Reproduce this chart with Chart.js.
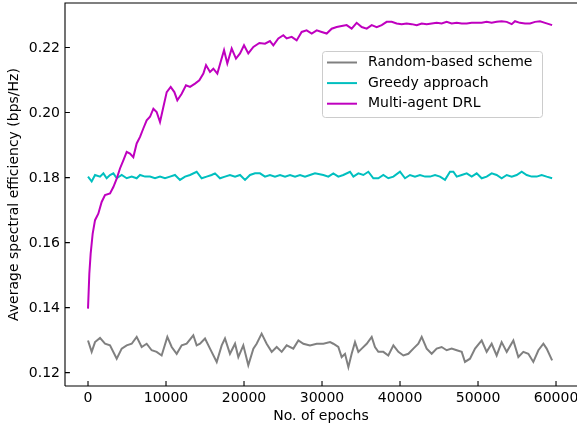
<!doctype html>
<html lang="en">
  <head>
    <meta charset="utf-8">
    <title>Average spectral efficiency</title>
    <script src="https://cdn.jsdelivr.net/npm/chart.js"></script>
    <style>
      html, body { margin: 0; padding: 0; background: #fff; overflow: hidden; }
      #wrap { width: 577px; height: 428px; }
    </style>
  </head>
  <body>
    <div id="wrap"><canvas id="chart" width="577" height="428"></canvas></div>

    <script>
      // series names + colours (matplotlib gray / c / m)
      const SeriesNames = ['Random-based scheme', 'Greedy approach', 'Multi-agent DRL']
      const SeriesColors = ['#808080', '#00bfbf', '#bf00bf']

      const XTicks = [0, 10000, 20000, 30000, 40000, 50000, 60000]
      const YTicks = [0.12, 0.14, 0.16, 0.18, 0.20, 0.22]

      // values
      const RandomEpochs = [0, 470, 900, 1540, 2180, 2820, 3680, 4320, 4960, 5600,
        6240, 6880, 7520, 8160, 8800, 9440, 10170, 10730, 11370, 12010,
        12650, 13500, 13930, 14360, 15000, 15640, 16500, 17140, 17560, 18200,
        18850, 19270, 19910, 20550, 21200, 21620, 22260, 22900, 23550, 24190,
        24830, 25470, 26320, 26970, 27610, 28460, 29320, 30170, 31030, 31450,
        32090, 32520, 32950, 33380, 33800, 34230, 34660, 35090, 35730, 36370,
        36790, 37220, 37860, 38500, 39150, 39790, 40430, 41070, 41710, 42350,
        42780, 43420, 44060, 44700, 45340, 45980, 46620, 47270, 47910, 48330,
        48970, 49620, 50470, 51110, 51750, 52390, 53030, 53680, 54530, 55170,
        55810, 56450, 57090, 57740, 58380, 58800, 59500]
      const RandomValues = [0.1299, 0.1264, 0.1294, 0.1307, 0.1289, 0.1284, 0.1243, 0.1274, 0.1284, 0.1289,
        0.1310, 0.1279, 0.1289, 0.1269, 0.1264, 0.1253, 0.1310, 0.1279, 0.1258, 0.1284,
        0.1289, 0.1315, 0.1284, 0.1289, 0.1305, 0.1274, 0.1233, 0.1284, 0.1305, 0.1258,
        0.1289, 0.1248, 0.1284, 0.1223, 0.1274, 0.1289, 0.1320, 0.1289, 0.1264, 0.1279,
        0.1264, 0.1284, 0.1274, 0.1299, 0.1289, 0.1284, 0.1289, 0.1289, 0.1294, 0.1289,
        0.1279, 0.1248, 0.1258, 0.1217, 0.1258, 0.1294, 0.1264, 0.1274, 0.1289, 0.1310,
        0.1279, 0.1264, 0.1264, 0.1253, 0.1284, 0.1264, 0.1253, 0.1258, 0.1274, 0.1289,
        0.1310, 0.1274, 0.1258, 0.1274, 0.1279, 0.1269, 0.1274, 0.1269, 0.1264, 0.1233,
        0.1243, 0.1274, 0.1299, 0.1264, 0.1289, 0.1253, 0.1294, 0.1264, 0.1299, 0.1248,
        0.1264, 0.1258, 0.1233, 0.1269, 0.1289, 0.1274, 0.1238]

      const GreedyEpochs = [0, 470, 900, 1540, 1970, 2390, 2820, 3250, 3680, 4320,
        4960, 5600, 6240, 6670, 7310, 7950, 8590, 9230, 9870, 10510,
        11150, 11790, 12440, 13080, 13930, 14570, 15210, 15850, 16280, 16920,
        17560, 18200, 18850, 19490, 20130, 20770, 21410, 22050, 22690, 23330,
        23970, 24620, 25260, 25900, 26540, 27180, 27820, 28460, 29100,
        30170, 30810, 31450, 32090, 32730, 33590, 34020, 34660, 35300, 35940,
        36580, 37220, 37860, 38500, 39150, 40000, 40640, 41280, 41920, 42560,
        43210, 43850, 44490, 45130, 45770, 46410, 46840, 47270, 47910, 48550,
        49190, 49830, 50470, 51110, 51750, 52390, 53030, 53680, 54320, 54960,
        55600, 56240, 56880, 57520, 58160, 58800, 59500]
      const GreedyValues = [0.1803, 0.1788, 0.1808, 0.1803, 0.1813, 0.1798, 0.1808, 0.1813, 0.1798, 0.1808,
        0.1798, 0.1803, 0.1798, 0.1808, 0.1803, 0.1803, 0.1798, 0.1803, 0.1798, 0.1803,
        0.1808, 0.1793, 0.1803, 0.1808, 0.1818, 0.1798, 0.1803, 0.1808, 0.1813, 0.1798,
        0.1803, 0.1808, 0.1803, 0.1808, 0.1793, 0.1808, 0.1813, 0.1813, 0.1803, 0.1808,
        0.1803, 0.1808, 0.1803, 0.1808, 0.1803, 0.1808, 0.1803, 0.1808, 0.1813,
        0.1808, 0.1803, 0.1813, 0.1803, 0.1808, 0.1818, 0.1803, 0.1813, 0.1808, 0.1818,
        0.1798, 0.1798, 0.1808, 0.1798, 0.1803, 0.1818, 0.1798, 0.1808, 0.1803, 0.1808,
        0.1803, 0.1803, 0.1808, 0.1803, 0.1793, 0.1818, 0.1818, 0.1803, 0.1808, 0.1813,
        0.1803, 0.1813, 0.1798, 0.1803, 0.1813, 0.1808, 0.1798, 0.1808, 0.1803, 0.1808,
        0.1818, 0.1808, 0.1803, 0.1803, 0.1808, 0.1803, 0.1798]

      const DrlEpochs = [0, 170, 340, 600, 900, 1320, 1750, 2180, 2820, 3250,
        3680, 4100, 4530, 4960, 5380, 5810, 6240, 6670, 7090, 7520,
        7950, 8380, 8800, 9230, 9660, 10090, 10600, 11070, 11450, 12010,
        12560, 13080, 13720, 14270, 14790, 15130, 15640, 16070, 16580, 17010,
        17440, 17860, 18420, 18970, 19490, 20000, 20550, 21200, 21970,
        22690, 23330, 23760, 24400, 25040, 25470, 26110, 26750, 27390, 28030,
        28680, 29320, 29960, 30600, 31240, 31880, 32520, 33160, 33800, 34440,
        35090, 35730, 36370, 37010, 37650, 38290, 38930, 39570, 40210, 40850,
        41500, 42140, 42780, 43420, 44060, 44700, 45340, 45980, 46620, 47270,
        47910, 48550, 49190, 49830, 50470, 51110, 51750, 52390, 53030, 53680,
        54320, 54740, 55380, 56030, 56670, 57310, 57950, 58590, 59500]
      const DrlValues = [0.1397, 0.1505, 0.1566, 0.1628, 0.1669, 0.1689, 0.1725, 0.1746, 0.1751, 0.1771,
        0.1797, 0.1828, 0.1853, 0.1879, 0.1874, 0.1863, 0.1905, 0.1925, 0.1951, 0.1976,
        0.1987, 0.2012, 0.2002, 0.1971, 0.2017, 0.2063, 0.2079, 0.2063, 0.2038, 0.2058,
        0.2084, 0.2079, 0.2089, 0.2099, 0.2120, 0.2146, 0.2125, 0.2135, 0.2120, 0.2156,
        0.2192, 0.2151, 0.2197, 0.2166, 0.2182, 0.2207, 0.2182, 0.2202, 0.2214,
        0.2212, 0.2220, 0.2207, 0.2228, 0.2238, 0.2228, 0.2233, 0.2222, 0.2248, 0.2253,
        0.2243, 0.2253, 0.2248, 0.2243, 0.2258, 0.2263, 0.2266, 0.2269, 0.2258, 0.2276,
        0.2263, 0.2258, 0.2269, 0.2263, 0.2269, 0.2279, 0.2279, 0.2274, 0.2272, 0.2274,
        0.2272, 0.2269, 0.2274, 0.2272, 0.2274, 0.2276, 0.2274, 0.2279, 0.2274, 0.2276,
        0.2274, 0.2274, 0.2276, 0.2276, 0.2276, 0.2279, 0.2276, 0.2279, 0.2281, 0.2279,
        0.2272, 0.2281, 0.2276, 0.2274, 0.2274, 0.2279, 0.2281, 0.2276, 0.2269]

      const Font = { family: 'DejaVu Sans', size: 14 }

      function ToPoints(xs, ys) {
        return xs.map((x, i) => ({ x: x, y: ys[i] }))
      }

      // matplotlib style frame: spines + inward ticks
      const FramePlugin = {
        id: 'frame',
        afterDraw(chart) {
          const { ctx, chartArea, scales } = chart
          const TickLen = 4.9
          ctx.save()
          ctx.strokeStyle = '#000'
          ctx.lineWidth = 1.1
          ctx.beginPath()
          ctx.moveTo(chartArea.left, chartArea.bottom)
          ctx.lineTo(chartArea.left, chartArea.top)
          ctx.lineTo(chartArea.right + 2, chartArea.top)
          ctx.moveTo(chartArea.left, chartArea.bottom)
          ctx.lineTo(chartArea.right + 2, chartArea.bottom)
          XTicks.forEach(v => {
            const px = scales.x.getPixelForValue(v)
            ctx.moveTo(px, chartArea.bottom)
            ctx.lineTo(px, chartArea.bottom - TickLen)
          })
          YTicks.forEach(v => {
            const py = scales.y.getPixelForValue(v)
            ctx.moveTo(chartArea.left, py)
            ctx.lineTo(chartArea.left + TickLen, py)
          })
          ctx.stroke()
          ctx.restore()
        }
      }

      // legend box drawn inside the plot, upper right
      const LegendPlugin = {
        id: 'innerLegend',
        afterDraw(chart) {
          const { ctx } = chart
          const Box = { x: 322, y: 51, w: 220, h: 66 }
          ctx.save()
          ctx.beginPath()
          ctx.roundRect(Box.x + 0.5, Box.y + 0.5, Box.w, Box.h, 3)
          ctx.fillStyle = 'rgba(255,255,255,0.8)'
          ctx.fill()
          ctx.strokeStyle = '#cccccc'
          ctx.lineWidth = 1
          ctx.stroke()
          ctx.font = Font.size + 'px ' + Font.family
          ctx.textBaseline = 'middle'
          chart.data.datasets.forEach((ds, i) => {
            const RowY = Box.y + 11.5 + i * 20.6
            ctx.beginPath()
            ctx.strokeStyle = ds.borderColor
            ctx.lineWidth = 2
            ctx.moveTo(Box.x + 5, RowY)
            ctx.lineTo(Box.x + 35, RowY)
            ctx.stroke()
            ctx.fillStyle = '#000'
            ctx.fillText(ds.label, Box.x + 46, RowY)
          })
          ctx.restore()
        }
      }

      const SeriesX = [RandomEpochs, GreedyEpochs, DrlEpochs]
      const SeriesY = [RandomValues, GreedyValues, DrlValues]

      new Chart(document.getElementById('chart'), {
        type: 'line',
        data: {
          datasets: SeriesNames.map((name, i) => ({
            label: name,
            data: ToPoints(SeriesX[i], SeriesY[i]),
            borderColor: SeriesColors[i],
            backgroundColor: SeriesColors[i],
            borderWidth: 2,
            pointRadius: 0,
            tension: 0,
            fill: false,
            order: 2 - i
          }))
        },
        options: {
          responsive: false,
          animation: false,
          devicePixelRatio: 1,
          layout: { padding: { top: 3, right: 0, bottom: 0, left: 0 } },
          plugins: {
            legend: { display: false },
            tooltip: { enabled: false }
          },
          scales: {
            x: {
              type: 'linear',
              min: -2950,
              max: 62690,
              afterBuildTicks: s => { s.ticks = XTicks.map(v => ({ value: v })) },
              afterFit: s => { s.height = 42; s.paddingLeft = 0; s.paddingRight = 0 },
              grid: { display: false, drawTicks: false },
              border: { display: false },
              ticks: {
                font: Font, color: '#000', padding: 4,
                autoSkip: false, maxRotation: 0,
                callback: v => String(v)
              },
              title: {
                display: true, text: 'No. of epochs', font: Font, color: '#000',
                padding: { top: 0, bottom: 3.5 }
              }
            },
            y: {
              type: 'linear',
              min: 0.1159,
              max: 0.2337,
              afterBuildTicks: s => { s.ticks = YTicks.map(v => ({ value: v })) },
              afterFit: s => { s.width = 65; s.paddingTop = 0; s.paddingBottom = 0 },
              grid: { display: false, drawTicks: false },
              border: { display: false },
              ticks: {
                font: Font, color: '#000', padding: 5, labelOffset: 1,
                autoSkip: false,
                callback: v => v.toFixed(2)
              },
              title: {
                display: true, text: 'Average spectral efficiency (bps/Hz)', font: Font, color: '#000',
                padding: { top: 6, bottom: 0 }
              }
            }
          }
        },
        plugins: [FramePlugin, LegendPlugin]
      })
    </script>
  </body>
</html>
